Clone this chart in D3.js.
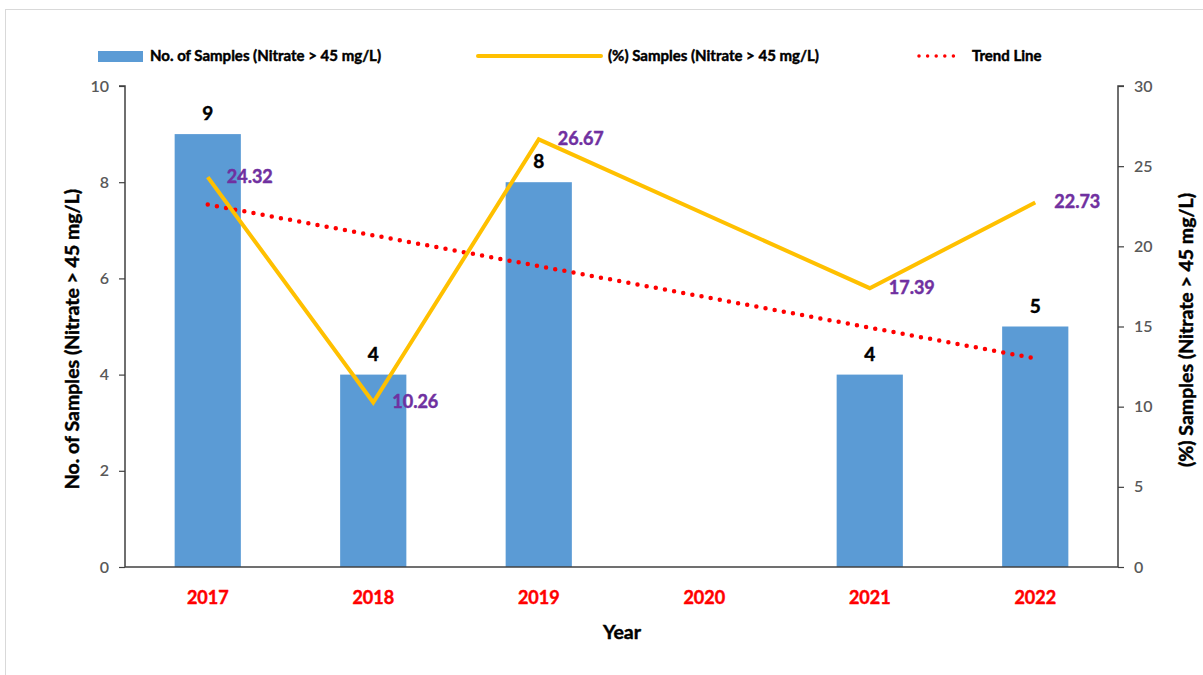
<!DOCTYPE html>
<html>
<head>
<meta charset="utf-8">
<script src="https://cdn.jsdelivr.net/npm/d3@7"></script>
<style>
  html, body { margin: 0; padding: 0; background: #fff; }
  svg { display: block; font-family: Lato, "Open Sans", sans-serif; }
</style>
</head>
<body>
<svg id="chart" width="1203" height="675"></svg>
<script>
// Nitrate exceedance by year
const years = ["2017", "2018", "2019", "2020", "2021", "2022"];
const sampleCounts = [9, 4, 8, null, 4, 5];            // No. of samples (Nitrate > 45 mg/L)
const samplePercents = [24.32, 10.26, 26.67, null, 17.39, 22.73]; // (%) samples
const leftTicks = [0, 2, 4, 6, 8, 10];
const rightTicks = [0, 5, 10, 15, 20, 25, 30];

const legendLabels = {
  bars: "No. of Samples (Nitrate > 45 mg/L)",
  line: "(%) Samples (Nitrate > 45 mg/L)",
  trend: "Trend Line"
};

const colors = {
  bar: "#5B9BD5",
  line: "#FFC000",
  trend: "#FF0000",
  pctLabel: "#7030A0",
  year: "#FF0000",
  tick: "#595959",
  axis: "#404040"
};

// heavy bold text: bold face plus a thin outline in the fill colour
const heavy = (sel, color) => sel.style("font-weight", "bold")
  .attr("fill", color).attr("stroke", color).attr("stroke-width", 0.45)
  .attr("paint-order", "stroke");

const svg = d3.select("#chart");
const m = { left: 125, right: 1118, top: 86, bottom: 567 };

// outer frame
svg.append("rect")
  .attr("x", 5.5).attr("y", 9.5)
  .attr("width", 1210).attr("height", 700)
  .attr("fill", "none").attr("stroke", "#d9d9d9").attr("stroke-width", 1);

const x = d3.scaleBand().domain(years).range([m.left, m.right])
  .paddingInner(0.6).paddingOuter(0.3);
const yL = d3.scaleLinear().domain([0, 10]).range([m.bottom, m.top]);
const yR = d3.scaleLinear().domain([0, 30]).range([m.bottom, m.top]);
const cx = d => x(d) + x.bandwidth() / 2;

// bars
const barData = years.map((y, i) => ({ year: y, v: sampleCounts[i] })).filter(d => d.v != null);
svg.append("g").selectAll("rect").data(barData).join("rect")
  .attr("x", d => x(d.year)).attr("width", x.bandwidth())
  .attr("y", d => yL(d.v)).attr("height", d => yL(0) - yL(d.v))
  .attr("fill", colors.bar);

// axes
const axisL = svg.append("g").attr("transform", `translate(${m.left},0)`)
  .call(d3.axisLeft(yL).tickValues(leftTicks).tickSize(6).tickPadding(10));
const axisR = svg.append("g").attr("transform", `translate(${m.right},0)`)
  .call(d3.axisRight(yR).tickValues(rightTicks).tickSize(6).tickPadding(10));
[axisL, axisR].forEach(g => {
  g.select(".domain").attr("stroke", colors.axis).attr("stroke-width", 1.5);
  g.selectAll(".tick line").attr("stroke", colors.axis).attr("stroke-width", 1.2);
  g.selectAll(".tick text").attr("fill", colors.tick)
    .style("font-size", "16px").style("font-weight", 600)
    .style("font-family", "Lato, sans-serif");
});
axisL.select(".domain").attr("d", `M-6,${m.top}H0V${m.bottom}`);
axisR.select(".domain").attr("d", `M6,${m.top}H0V${m.bottom}`);

// x axis baseline
const axisB = svg.append("g").attr("transform", `translate(0,${m.bottom})`)
  .call(d3.axisBottom(x).tickSize(0).tickPadding(24));
axisB.select(".domain").attr("stroke", colors.axis).attr("stroke-width", 1.5)
  .attr("d", `M${m.left},0H${m.right}`);
axisB.selectAll(".tick text")
  .style("font-size", "18px").style("font-family", "Lato, sans-serif")
  .call(heavy, colors.year);

// trend line: least-squares fit of sample counts over year index
const pts = sampleCounts.map((v, i) => ({ i, v })).filter(d => d.v != null);
const mx = d3.mean(pts, d => d.i), my = d3.mean(pts, d => d.v);
const slope = d3.sum(pts, d => (d.i - mx) * (d.v - my)) / d3.sum(pts, d => (d.i - mx) ** 2);
const fit = i => my + slope * (i - mx);
const first = 0, last = years.length - 1;
svg.append("line")
  .attr("x1", cx(years[first])).attr("y1", yL(fit(first)))
  .attr("x2", cx(years[last])).attr("y2", yL(fit(last)))
  .attr("stroke", colors.trend).attr("stroke-width", 4.5)
  .attr("stroke-linecap", "round").attr("stroke-dasharray", "0 9.3");

// percent line (2020 has no value and is skipped)
const lineData = years.map((y, i) => ({ year: y, v: samplePercents[i] })).filter(d => d.v != null);
svg.append("path").datum(lineData)
  .attr("fill", "none").attr("stroke", colors.line).attr("stroke-width", 4)
  .attr("stroke-linejoin", "miter")
  .attr("d", d3.line().x(d => cx(d.year)).y(d => yR(d.v)));

// count labels above bars
svg.append("g").selectAll("text").data(barData).join("text")
  .attr("x", d => cx(d.year)).attr("y", d => yL(d.v) - 14)
  .attr("text-anchor", "middle")
  .style("font-size", "19px")
  .call(heavy, "#000")
  .text(d => d.v);

// percent labels right of points
svg.append("g").selectAll("text").data(lineData).join("text")
  .attr("x", d => cx(d.year) + 19).attr("y", d => yR(d.v) + 1)
  .attr("dominant-baseline", "middle")
  .style("font-size", "18px")
  .call(heavy, colors.pctLabel)
  .text(d => d3.format(".2f")(d.v));

// axis titles
const titleStyle = t => t.style("font-size", "19.5px").attr("text-anchor", "middle").call(heavy, "#000");
svg.append("text").attr("x", 622).attr("y", 639).text("Year").call(titleStyle);
svg.append("text").attr("transform", "translate(79,339) rotate(-90)")
  .text("No. of Samples (Nitrate > 45 mg/L)").call(titleStyle);
svg.append("text").attr("transform", "translate(1188,330) rotate(-90)")
  .attr("dominant-baseline", "middle")
  .text("(%) Samples (Nitrate > 45 mg/L)").call(titleStyle);

// legend
const lg = svg.append("g").style("font-size", "15px");
lg.append("rect").attr("x", 98).attr("y", 51).attr("width", 45).attr("height", 11).attr("fill", colors.bar);
lg.append("text").attr("x", 150).attr("y", 61).text(legendLabels.bars).call(heavy, "#000");
lg.append("line").attr("x1", 478).attr("x2", 601).attr("y1", 56).attr("y2", 56)
  .attr("stroke", colors.line).attr("stroke-width", 4).attr("stroke-linecap", "round");
lg.append("text").attr("x", 608).attr("y", 61).text(legendLabels.line).call(heavy, "#000");
lg.append("line").attr("x1", 919).attr("x2", 962).attr("y1", 56).attr("y2", 56)
  .attr("stroke", colors.trend).attr("stroke-width", 3.5)
  .attr("stroke-linecap", "round").attr("stroke-dasharray", "0 8.6");
lg.append("text").attr("x", 972).attr("y", 61).text(legendLabels.trend).call(heavy, "#000");
</script>
</body>
</html>
